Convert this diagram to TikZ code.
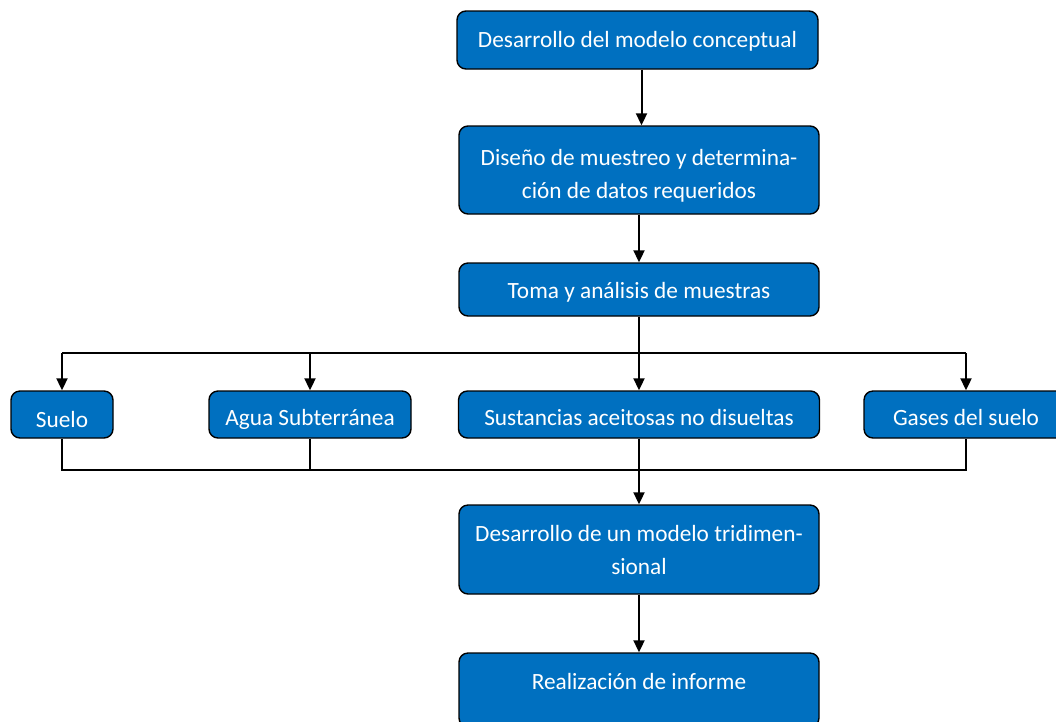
\documentclass[tikz,border=0pt]{standalone}
\usepackage{fontspec}
\setmainfont{Carlito}
\usetikzlibrary{arrows.meta,calc}
\definecolor{boxblue}{HTML}{0070C0}
\newcommand{\dn}[2]{\raisebox{-#1pt}[\height][\depth]{#2}}
\begin{document}
\begin{tikzpicture}[x=1pt,y=-1pt,
  box/.style={draw=black,line width=1.4pt,fill=boxblue,rounded corners=9pt,
    text=white,align=center,inner sep=0pt,font=\fontsize{23.3}{33}\selectfont},
  conn/.style={line width=2pt,draw=black},
  arr/.style={conn,-{Triangle[length=12pt,width=11pt]}}]
\useasboundingbox (0,0) rectangle (1056,721);
\clip (0,0) rectangle (1056,721);
\node[box,minimum width=361pt,minimum height=58pt] (b1) at (637.5,40) {\dn{1}{Desarrollo del modelo conceptual}};
\node[box,minimum width=360pt,minimum height=88pt] (b2) at (639,170) {\dn{5}{\begin{tabular}{@{}c@{}}Diseño de muestreo y determina-\\ción de datos requeridos\end{tabular}}};
\node[box,minimum width=360pt,minimum height=53pt] (b3) at (639,289.5) {\dn{3}{Toma y análisis de muestras}};
\node[box,minimum width=102pt,minimum height=47pt] (s1) at (62,414.5) {\dn{5}{Suelo}};
\node[box,minimum width=202pt,minimum height=47pt] (s2) at (310,414.5) {\dn{5}{Agua Subterránea}};
\node[box,minimum width=361pt,minimum height=47pt] (s3) at (639,414.5) {\dn{3}{Sustancias aceitosas no disueltas}};
\node[box,minimum width=204pt,minimum height=47pt] (s4) at (966,414.5) {\dn{3}{Gases del suelo}};
\node[box,minimum width=360pt,minimum height=89pt] (b6) at (639,549.5) {Desarrollo de un modelo tridimen-\\sional};
\node[box,minimum width=360pt,minimum height=74pt] (b7) at (639,690) {\dn{-8.5}{Realización de informe}};
\coordinate (sp) at (639,353);
\coordinate (mg) at (639,470);
\draw[arr] ([xshift=4pt]b1.south) -- ([xshift=4pt]b1.south |- b2.north);
\draw[arr] (b2.south) -- (b3.north);
\draw[conn] (b3.south) -- (sp);
\draw[conn] (s1.north |- sp) -- (s4.north |- sp);
\draw[arr] (s1.north |- sp) -- (s1.north);
\draw[arr] (s2.north |- sp) -- (s2.north);
\draw[arr] (s3.north |- sp) -- (s3.north);
\draw[arr] (s4.north |- sp) -- (s4.north);
\draw[conn] (s1.south) -- (s1.south |- mg) -- (s4.south |- mg) -- (s4.south);
\draw[conn] (s2.south) -- (s2.south |- mg);
\draw[conn] (s3.south) -- (s3.south |- mg);
\draw[arr] (mg) -- (b6.north);
\draw[arr] (b6.south) -- (b7.north);
\end{tikzpicture}
\end{document}
